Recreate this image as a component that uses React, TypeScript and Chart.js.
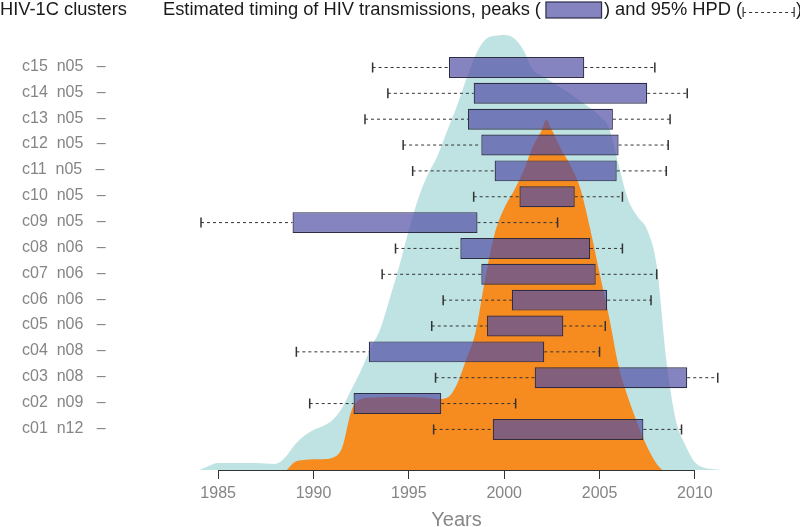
import React, { useEffect, useRef } from 'react';
import { Chart, registerables } from 'chart.js';
Chart.register(...registerables);

// Clusters, listed top to bottom
const clusterIds = ['c15','c14','c13','c12','c11','c10','c09','c08','c07','c06','c05','c04','c03','c02','c01'];
const clusterSizes = ['n05','n05','n05','n05','n05','n05','n05','n06','n06','n06','n06','n08','n08','n09','n12'];
// 95% HPD interval and peak interval (years)
const hpdLow   = [1993.1, 1993.9, 1992.7, 1994.7, 1995.2, 1998.4, 1984.1, 1994.3, 1993.6, 1996.8, 1996.2, 1989.1, 1996.4, 1989.8, 1996.3];
const peakLow  = [1997.1, 1998.4, 1998.1, 1998.8, 1999.5, 2000.8, 1988.9, 1997.7, 1998.8, 2000.4, 1999.1, 1992.9, 2001.6, 1992.1, 1999.4];
const peakHigh = [2004.2, 2007.5, 2005.7, 2006.0, 2005.9, 2003.7, 1998.6, 2004.5, 2004.8, 2005.4, 2003.1, 2002.1, 2009.6, 1996.7, 2007.3];
const hpdHigh  = [2007.9, 2009.6, 2008.7, 2008.6, 2008.5, 2006.2, 2002.8, 2006.2, 2008.0, 2007.7, 2005.3, 2005.0, 2011.2, 2000.6, 2009.3];

const xTicks = [1985, 1990, 1995, 2000, 2005, 2010];

// Density of all transmissions (teal)
const allYears = [1984.0,1984.5,1985,1986,1987,1988,1988.5,1989,1989.5,1990,1990.5,1991,1991.5,1992,1992.5,1993,1993.5,1994,1994.5,1995,1995.5,1996,1996.5,1997,1997.5,1998,1998.5,1999,1999.5,2000,2000.5,2001,2001.5,2002,2002.5,2003,2003.5,2004,2004.5,2005,2005.5,2006,2006.5,2007,2007.5,2008,2008.5,2009,2009.5,2010,2010.5,2011,2011.5];
const allDensity = [0,0.9,1.6,1.6,1.6,1.4,2.8,5.7,7.8,9.2,10.1,11.5,14.3,18.6,23,28,32.4,39.5,46.9,55.2,62.5,68,72.2,77.9,83.4,89.7,95.4,98.9,99.8,100,99.3,96.6,92,90.6,89.2,87.8,86.4,84.8,83.2,81.4,78.6,70.1,62.1,58.2,55.2,46.9,25.3,11.5,5.7,1.8,0.5,0.2,0];

// Density of cluster transmissions (orange)
const clusterYears = [1988.6,1989,1989.5,1990,1990.5,1991,1991.5,1992,1992.5,1993,1994,1995,1996,1996.5,1997,1997.5,1998,1998.5,1999,1999.5,2000,2000.5,2001,2001.5,2002,2002.2,2002.5,2003,2003.5,2004,2004.5,2005,2005.5,2006,2006.5,2007,2007.5,2008,2008.3];
const clusterDensity = [0,1.8,2.3,2.5,2.5,2.8,5.1,13.8,16.3,16.6,16.8,16.8,16.6,16.3,16.6,19.5,25.3,31.7,43.9,54.3,60.2,64.1,68.6,74.3,78.4,80.5,78.2,73.6,69.8,64.6,55.6,45.3,35.2,23.9,16.6,10.6,5.3,1.4,0];

const FONT = "'Liberation Sans', Arial, Helvetica, sans-serif";
const BOX_FILL = 'rgba(81,78,165,0.7)';
const BOX_EDGE = '#2d2d48';
const WHISKER = '#333333';

export default function App() {
  const ref = useRef<HTMLCanvasElement>(null);

  useEffect(() => {
    if (!ref.current) return;
    const n = clusterIds.length;
    const rows = clusterIds.map((_, i) => n - i);

    const whiskerPts: any[] = [];
    rows.forEach((r, i) => {
      whiskerPts.push(
        { x: hpdLow[i], y: r, cap: true },
        { x: peakLow[i], y: r, cap: false },
        { x: null, y: null },
        { x: peakHigh[i], y: r, cap: false },
        { x: hpdHigh[i], y: r, cap: true },
        { x: null, y: null }
      );
    });

    const decor = {
      id: 'decor',
      afterDraw(chart: any) {
        const { ctx, chartArea, scales } = chart;
        const xs = scales.x;
        ctx.save();
        // axis baseline between first and last tick
        ctx.strokeStyle = '#333';
        ctx.lineWidth = 1;
        const yb = Math.round(chartArea.bottom) + 0.5;
        const xa = xs.getPixelForValue(xTicks[0]);
        const xb = xs.getPixelForValue(xTicks[xTicks.length - 1]);
        ctx.beginPath();
        ctx.moveTo(xa, yb);
        ctx.lineTo(xb, yb);
        ctx.stroke();

        // axis title
        ctx.fillStyle = '#878787';
        ctx.font = `20px ${FONT}`;
        ctx.textAlign = 'center';
        ctx.textBaseline = 'alphabetic';
        ctx.fillText('Years', (xa + xb) / 2, 526);

        // header
        ctx.fillStyle = '#1a1a1a';
        ctx.font = `18.3px ${FONT}`;
        ctx.textAlign = 'left';
        ctx.fillText('HIV-1C clusters', 0, 15);
        let x = 163;
        const t1 = 'Estimated timing of HIV transmissions, peaks (';
        ctx.fillText(t1, x, 15);
        x += ctx.measureText(t1).width + 5;
        ctx.fillStyle = BOX_FILL;
        ctx.fillRect(x, 2, 55.6, 16);
        ctx.strokeStyle = BOX_EDGE;
        ctx.lineWidth = 1.2;
        ctx.strokeRect(x, 2, 55.6, 16);
        x += 58;
        ctx.fillStyle = '#1a1a1a';
        const t2 = ') and 95% HPD (';
        ctx.fillText(t2, x, 15);
        x += ctx.measureText(t2).width + 1;
        ctx.strokeStyle = WHISKER;
        ctx.lineWidth = 1.2;
        ctx.beginPath();
        ctx.moveTo(x, 7); ctx.lineTo(x, 17);
        ctx.moveTo(x + 51, 7); ctx.lineTo(x + 51, 17);
        ctx.stroke();
        ctx.lineWidth = 1;
        ctx.setLineDash([3, 3]);
        ctx.beginPath();
        ctx.moveTo(x, 12.5); ctx.lineTo(x + 51, 12.5);
        ctx.stroke();
        ctx.setLineDash([]);
        ctx.fillText(')', x + 53, 15);
        ctx.restore();
      },
    };

    const chart = new Chart(ref.current, {
      type: 'bar',
      data: {
        datasets: [
          {
            type: 'line',
            data: whiskerPts,
            xAxisID: 'x',
            yAxisID: 'y',
            borderColor: WHISKER,
            borderWidth: 1,
            borderDash: [3, 3],
            spanGaps: false,
            fill: false,
            pointStyle: 'line',
            rotation: 90,
            pointRadius: (c: any) => (c.raw && c.raw.cap ? 5 : 0),
            pointBorderColor: WHISKER,
            pointBorderWidth: 1.5,
            order: 0,
          } as any,
          {
            type: 'bar',
            indexAxis: 'y',
            data: rows.map((r, i) => ({ x: [peakLow[i], peakHigh[i]], y: r })),
            xAxisID: 'x',
            yAxisID: 'y',
            backgroundColor: BOX_FILL,
            borderColor: BOX_EDGE,
            borderWidth: 1.2,
            borderSkipped: false,
            barPercentage: 0.9,
            categoryPercentage: 0.9,
            order: 1,
          } as any,
          {
            type: 'line',
            data: clusterYears.map((x, i) => ({ x, y: clusterDensity[i] })),
            xAxisID: 'x',
            yAxisID: 'yd',
            fill: 'origin',
            backgroundColor: '#f68b1f',
            borderColor: 'transparent',
            borderWidth: 0,
            pointRadius: 0,
            cubicInterpolationMode: 'monotone',
            order: 2,
          } as any,
          {
            type: 'line',
            data: allYears.map((x, i) => ({ x, y: allDensity[i] })),
            xAxisID: 'x',
            yAxisID: 'yd',
            fill: 'origin',
            backgroundColor: '#bee3e2',
            borderColor: 'transparent',
            borderWidth: 0,
            pointRadius: 0,
            cubicInterpolationMode: 'monotone',
            order: 3,
          } as any,
        ],
      },
      options: {
        animation: false,
        responsive: true,
        maintainAspectRatio: false,
        events: [],
        layout: { padding: { left: 22, top: 30, right: 70.8, bottom: 0 } },
        plugins: { legend: { display: false }, tooltip: { enabled: false } },
        scales: {
          x: {
            type: 'linear',
            axis: 'x',
            position: 'bottom',
            offset: false,
            min: 1984,
            max: 2011.8,
            border: { display: false },
            grid: { display: true, offset: false, drawOnChartArea: false, drawTicks: true, tickLength: 9, color: '#333', lineWidth: 1 },
            ticks: {
              autoSkip: false,
              maxRotation: 0,
              padding: 5,
              color: '#858585',
              font: { family: FONT, size: 16 },
              callback: (v: any) => String(v),
            },
            afterBuildTicks: (s: any) => { s.ticks = xTicks.map((v) => ({ value: v })); },
            afterFit: (s: any) => { s.height = 57; },
          },
          y: {
            type: 'linear',
            axis: 'y',
            position: 'left',
            offset: false,
            beginAtZero: false,
            min: -0.57,
            max: 16.45,
            border: { display: false },
            grid: { display: false, offset: false },
            ticks: {
              autoSkip: false,
              crossAlign: 'far',
              color: '#858585',
              labelOffset: -1,
              font: { family: FONT, size: 16 },
              callback: (v: any) => {
                const i = n - Number(v);
                return i >= 0 && i < n ? `${clusterIds[i]}  ${clusterSizes[i]}   –` : '';
              },
            },
            afterBuildTicks: (s: any) => { s.ticks = rows.map((v) => ({ value: v })); },
            afterFit: (s: any) => { s.width = 177.1; },
          },
          yd: {
            type: 'linear',
            axis: 'y',
            display: false,
            offset: false,
            min: 0,
            max: 101.15,
          },
        },
      } as any,
      plugins: [decor],
    });

    return () => chart.destroy();
  }, []);

  return (
    <div style={{ position: 'fixed', left: 0, top: 0, width: 800, height: 527, background: '#fff' }}>
      <canvas ref={ref} />
    </div>
  );
}
